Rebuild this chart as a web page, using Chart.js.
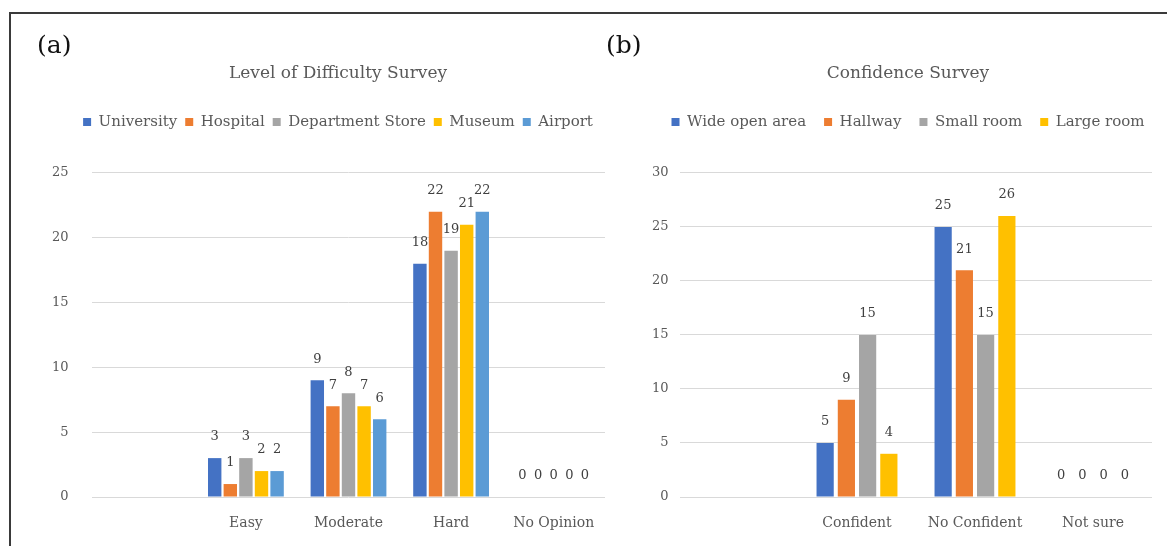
<!DOCTYPE html>
<html>
<head>
<meta charset="utf-8">
<script src="https://cdn.jsdelivr.net/npm/chart.js@4.4.1/dist/chart.umd.min.js"></script>
<style>
  html, body { margin: 0; padding: 0; background: #ffffff; }
  body { width: 1167px; height: 546px; position: relative; overflow: hidden; font-family: "DejaVu Serif", serif; }
  #frame { position: absolute; left: 9px; top: 12px; width: 1200px; height: 600px; border: 2px solid #3a3a3a; box-sizing: border-box; }
  .tag { position: absolute; top: 32px; font-size: 25px; line-height: 1; color: #111; font-family: "DejaVu Serif", serif; }
  #wrapA { position: absolute; left: 0; top: 0; width: 620px; height: 546px; }
  #wrapB { position: absolute; left: 600px; top: 0; width: 600px; height: 546px; }
</style>
</head>
<body>
<div id="frame"></div>
<div id="wrapA"><canvas id="chartA"></canvas></div>
<div id="wrapB"><canvas id="chartB"></canvas></div>
<div class="tag" style="left:37px;">(a)</div>
<div class="tag" style="left:606px;">(b)</div>
<script>
// ---- Data: chart (a) ----
const difficultyCategories = ['', 'Easy', 'Moderate', 'Hard', 'No Opinion'];
const universityValues   = [null, 3, 9, 18, 0];
const hospitalValues     = [null, 1, 7, 22, 0];
const deptStoreValues    = [null, 3, 8, 19, 0];
const museumValues       = [null, 2, 7, 21, 0];
const airportValues      = [null, 2, 6, 22, 0];
const difficultyTicks    = [0, 5, 10, 15, 20, 25];

// ---- Data: chart (b) ----
const confidenceCategories = ['', 'Confident', 'No Confident', 'Not sure'];
const wideOpenValues   = [null, 5, 25, 0];
const hallwayValues    = [null, 9, 21, 0];
const smallRoomValues  = [null, 15, 15, 0];
const largeRoomValues  = [null, 4, 26, 0];
const confidenceTicks  = [0, 5, 10, 15, 20, 25, 30];

const C_BLUE = '#4472C4', C_ORANGE = '#ED7D31', C_GRAY = '#A5A5A5', C_YELLOW = '#FFC000', C_LBLUE = '#5B9BD5';
const FONT = '"DejaVu Serif", serif';
const TXT = '#595959';

const valueLabels = {
  id: 'valueLabels',
  afterDatasetsDraw(chart) {
    const ctx = chart.ctx;
    ctx.save();
    ctx.font = '13px ' + FONT;
    ctx.fillStyle = '#404040';
    ctx.textAlign = 'center';
    ctx.textBaseline = 'middle';
    chart.data.datasets.forEach((ds, i) => {
      chart.getDatasetMeta(i).data.forEach((bar, j) => {
        const v = ds.data[j];
        if (v === null || v === undefined) return;
        ctx.fillText(String(v), bar.x, bar.y - 21);
      });
    });
    ctx.restore();
  }
};

function makeChart(id, cats, sets, ticks, cfg) {
  const maxV = ticks[ticks.length - 1];
  return new Chart(document.getElementById(id), {
    type: 'bar',
    data: {
      labels: cats,
      datasets: sets.map(s => ({
        label: s.label, data: s.data, backgroundColor: s.color, borderWidth: 0,
        categoryPercentage: cfg.catPct, barPercentage: cfg.barPct
      }))
    },
    plugins: [valueLabels],
    options: {
      responsive: true,
      maintainAspectRatio: false,
      animation: false,
      devicePixelRatio: 1,
      layout: { padding: { left: cfg.padL, right: cfg.padR, top: 0, bottom: 0 } },
      plugins: {
        title: {
          display: true, text: cfg.title, color: TXT,
          font: { family: FONT, size: 17, weight: 'normal' },
          padding: { top: 63, bottom: cfg.titleB }
        },
        subtitle: {
          display: true, text: ' ', weight: 500,
          font: { family: FONT, size: 10 },
          padding: { top: 21.5, bottom: 0 }
        },
        legend: {
          display: true, position: 'top',
          labels: {
            boxWidth: 8, boxHeight: 8, padding: cfg.legPad, color: TXT,
            font: { family: FONT, size: 15 }
          }
        },
        tooltip: { enabled: false }
      },
      scales: {
        x: {
          grid: { display: false }, border: { display: false },
          ticks: { color: TXT, font: { family: FONT, size: 14 }, padding: 10, maxRotation: 0, autoSkip: false },
          afterFit(scale) { scale.height = 49; }
        },
        y: {
          min: 0, max: maxV,
          grid: { color: '#D9D9D9', lineWidth: 1, drawTicks: false }, border: { display: false },
          ticks: { stepSize: ticks[1] - ticks[0], color: TXT, font: { family: FONT, size: 13 },
                   mirror: true, crossAlign: 'far', padding: cfg.tickPad },
          afterFit(scale) { scale.width = cfg.axisW; }
        },
        yEdge: {
          type: 'linear', position: 'right', display: true,
          grid: { display: false }, border: { display: false }, ticks: { display: false },
          afterFit(scale) { scale.width = cfg.edgeW; }
        }
      }
    }
  });
}

makeChart('chartA', difficultyCategories, [
  { label: 'University', data: universityValues, color: C_BLUE },
  { label: 'Hospital', data: hospitalValues, color: C_ORANGE },
  { label: 'Department Store', data: deptStoreValues, color: C_GRAY },
  { label: 'Museum', data: museumValues, color: C_YELLOW },
  { label: 'Airport', data: airportValues, color: C_LBLUE }
], difficultyTicks, {
  title: 'Level of Difficulty Survey', padL: 71, padR: 15, axisW: 21, tickPad: -40, edgeW: 0,
  catPct: 0.76, barPct: 0.86, legPad: 8, titleB: 23
});

makeChart('chartB', confidenceCategories, [
  { label: 'Wide open area', data: wideOpenValues, color: C_BLUE },
  { label: 'Hallway', data: hallwayValues, color: C_ORANGE },
  { label: 'Small room', data: smallRoomValues, color: C_GRAY },
  { label: 'Large room', data: largeRoomValues, color: C_YELLOW }
], confidenceTicks, {
  title: 'Confidence Survey', padL: 50, padR: 34, axisW: 30, tickPad: -28, edgeW: 14,
  catPct: 0.72, barPct: 0.81, legPad: 18, titleB: 13
});
</script>
</body>
</html>
